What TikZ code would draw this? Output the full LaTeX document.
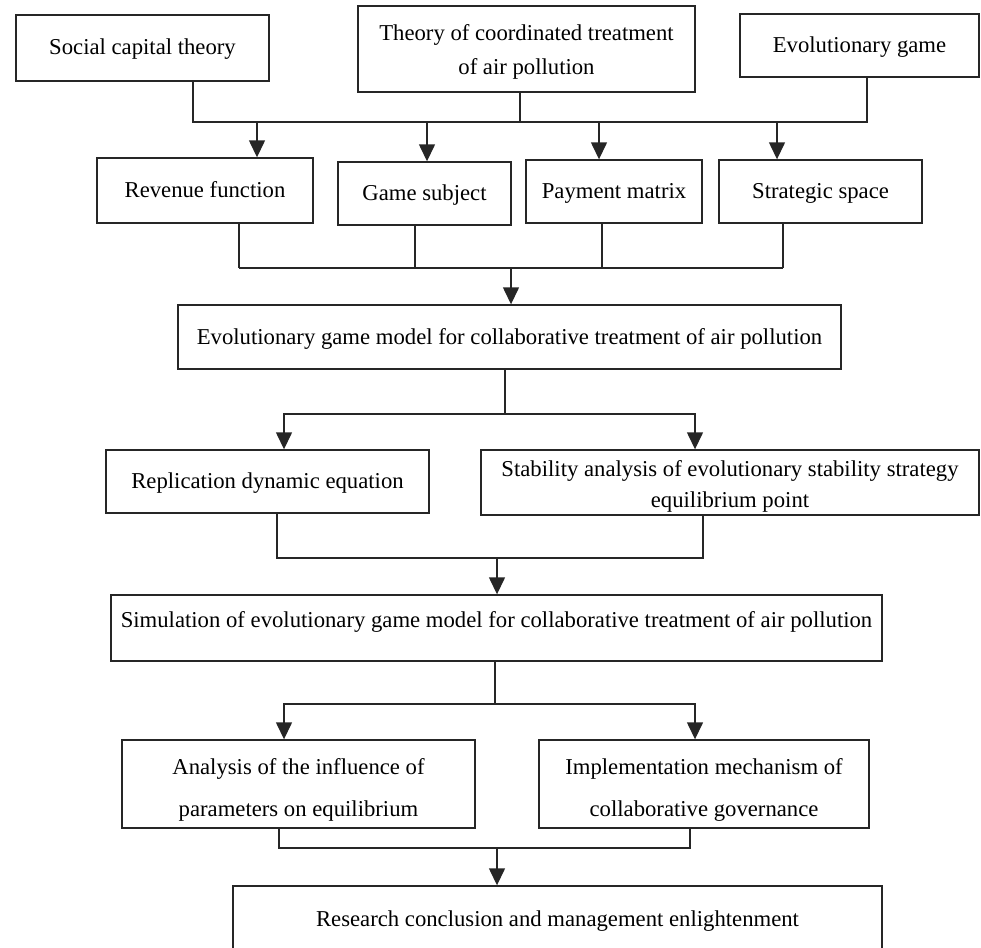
\documentclass[tikz,border=0pt]{standalone}
\usepackage{fontspec}
\setmainfont{Liberation Serif}
\usetikzlibrary{arrows.meta,positioning,calc}

\begin{document}
\begin{tikzpicture}[x=1pt, y=-1pt,
            every node/.style={draw=black!85, line width=1.4pt, rectangle, inner sep=0pt, align=center,
                               font=\fontsize{22.7}{34}\selectfont},
            one/.style={text height=18pt, text depth=4pt},
            link/.style={draw=black!85, line width=1.4pt},
            arrow/.style={link, -{Triangle[length=17pt, width=16pt]}}]
        \clip (0,0) rectangle (981,947);
        % theories
        \node[one, minimum width=253, minimum height=66] (social) at (142.5,48) {Social capital theory};
        \node[minimum width=337, minimum height=86] (theory) at (526.5,49) {\rule{0pt}{22.5pt}Theory of coordinated treatment\\of air pollution};
        \node[one, minimum width=239, minimum height=63] (evolgame) at (859.5,45.5) {Evolutionary game};
        % game elements
        \node[one, minimum width=216, minimum height=65] (revenue) at (205,190.5) {Revenue function};
        \node[one, minimum width=173, minimum height=63] (subject) at (424.5,193.5) {Game subject};
        \node[one, minimum width=176, minimum height=63] (payment) at (614,191.5) {Payment matrix};
        \node[one, minimum width=203, minimum height=63] (strategic) at (820.5,191.5) {Strategic space};
        % model
        \node[one, minimum width=663, minimum height=64] (model) at (509.5,337) {Evolutionary game model for collaborative treatment of air pollution};
        \node[one, minimum width=323, minimum height=63] (replication) at (267.5,481.5) {Replication dynamic equation};
        \node[minimum width=498, minimum height=65, font=\fontsize{22.7}{31}\selectfont] (stability) at (730,482.5) {\rule{0pt}{23.5pt}Stability analysis of evolutionary stability strategy\\equilibrium point};
        \node[minimum width=771, minimum height=66, text height=12pt, text depth=14pt] (simulation) at (496.5,628) {Simulation of evolutionary game model for collaborative treatment of air pollution};
        % results
        \node[minimum width=353, minimum height=88, font=\fontsize{22.7}{42}\selectfont] (analysis) at (298.5,784) {\rule{0pt}{27.5pt}Analysis of the influence of\\parameters on equilibrium};
        \node[minimum width=330, minimum height=88, font=\fontsize{22.7}{42}\selectfont] (implementation) at (704,784) {\rule{0pt}{27.5pt}Implementation mechanism of\\collaborative governance};
        \node[one, minimum width=649, minimum height=66] (research) at (557.5,919) {Research conclusion and management enlightenment};

        % theories -> game elements
        \draw[link] (193,0 |- social.south) |- (867,122) -- (867,0 |- evolgame.south);
        \draw[link] (520,0 |- theory.south) -- (520,122);
        \foreach \n/\x in {revenue/257, subject/427, payment/599, strategic/777}
            \draw[arrow] (\x,122) -- (\x,0 |- \n.north);
        % game elements -> model
        \foreach \n/\x in {revenue/239, subject/415, payment/602, strategic/783}
            \draw[link] (\x,0 |- \n.south) -- (\x,268);
        \draw[link] (239,268) -- (783,268);
        \draw[arrow] (511,268) -- (511,0 |- model.north);
        % model -> analysis
        \draw[link] (505,0 |- model.south) -- (505,414);
        \draw[arrow] (505,414) -| (284,0 |- replication.north);
        \draw[arrow] (505,414) -| (695,0 |- stability.north);
        \draw[link] (277,0 |- replication.south) |- (703,558) -- (703,0 |- stability.south);
        \draw[arrow] (497,558) -- (497,0 |- simulation.north);
        % simulation -> results
        \draw[link] (495,0 |- simulation.south) -- (495,704);
        \draw[arrow] (495,704) -| (284,0 |- analysis.north);
        \draw[arrow] (495,704) -| (695,0 |- implementation.north);
        \draw[link] (279,0 |- analysis.south) |- (690,848) -- (690,0 |- implementation.south);
        \draw[arrow] (497,848) -- (497,0 |- research.north);
\end{tikzpicture}
\end{document}
